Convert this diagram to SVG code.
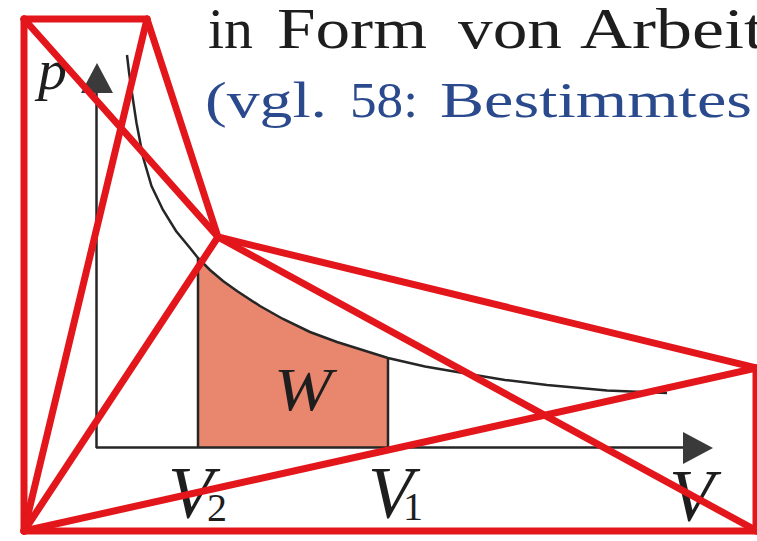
<svg xmlns="http://www.w3.org/2000/svg" width="757" height="541" viewBox="0 0 757 541">
  <style>
    .blk { font-family: "Liberation Serif", "DejaVu Serif", serif; fill: #1e1e1e; }
    .blu { font-family: "Liberation Serif", "DejaVu Serif", serif; fill: #2b4a8e; }
    .it { font-family: "Liberation Serif", "DejaVu Serif", serif; font-style: italic; fill: #1e1e1e; }
    .sub { font-style: normal; font-size: 40px; }
    .ax { stroke: #262626; stroke-width: 2.5; fill: none; }
    .head { fill: #3a3a3a; }
    .red { stroke: #e3161b; stroke-width: 7; stroke-linecap: round; fill: none; }
  </style>
  <rect width="757" height="541" fill="#ffffff"/>

  <g id="heading">
    <text class="blk" x="208" y="48" font-size="58" textLength="45" lengthAdjust="spacingAndGlyphs">in</text>
    <text class="blk" x="277" y="48" font-size="58" textLength="150" lengthAdjust="spacingAndGlyphs">Form</text>
    <text class="blk" x="458" y="48" font-size="58" textLength="104" lengthAdjust="spacingAndGlyphs">von</text>
    <text class="blk" x="580" y="48" font-size="58" textLength="184" lengthAdjust="spacingAndGlyphs">Arbeit</text>
    <text class="blu" x="205" y="117" font-size="50" textLength="122" lengthAdjust="spacingAndGlyphs">(vgl.</text>
    <text class="blu" x="350" y="117" font-size="50" textLength="68" lengthAdjust="spacingAndGlyphs">58:</text>
    <text class="blu" x="440" y="117" font-size="50" textLength="312" lengthAdjust="spacingAndGlyphs">Bestimmtes</text>
  </g>

  <g id="work-area">
    <path d="M198,447 L198,258 L210,270 L223,281 L237,291 L260,306 L283,319 L310,332 L337,342 L388,358 L388,447 Z" fill="#e8866e"/>
    <line class="ax" x1="198" y1="258" x2="198" y2="447"/>
    <line class="ax" x1="388" y1="358" x2="388" y2="447"/>
  </g>

  <g id="axes">
    <line class="ax" x1="96.5" y1="90" x2="96.5" y2="448"/>
    <polygon class="head" points="97,63 81,93 113,93"/>
    <line class="ax" x1="96" y1="447.5" x2="686" y2="447.5"/>
    <polygon class="head" points="713,448 683,432 683,464"/>
  </g>

  <g id="curve">
    <path class="ax" d="M127,55 L129,72 L131.5,90 L136.5,123 L143,157 L151.5,186 L163,210 L176,231 L190,248 L198,258 L210,270 L223,281 L237,291 L260,306 L283,319 L310,332 L337,342 L388,358 L425,366.5 L463,373 L505,380 L547,385 L607,390.5 L667,393"/>
  </g>

  <g id="labels">
    <text class="it" x="38" y="89" font-size="58">p</text>
    <text class="it" x="274" y="410" font-size="62" textLength="58" lengthAdjust="spacingAndGlyphs">W</text>
    <text class="it" x="168" y="518" font-size="74">V<tspan class="sub" x="207" y="521">2</tspan></text>
    <text class="it" x="368" y="518" font-size="74">V<tspan class="sub" x="403" y="520">1</tspan></text>
    <text class="it" x="669" y="521" font-size="74">V</text>
  </g>

  <g id="connectors">
    <line class="red" x1="24" y1="19" x2="147" y2="19"/>
    <line class="red" x1="24" y1="19" x2="24" y2="531"/>
    <line class="red" x1="24" y1="531" x2="757" y2="531"/>
    <line class="red" x1="756" y1="368" x2="756" y2="531"/>
    <line class="red" x1="24" y1="19" x2="218" y2="237"/>
    <line class="red" x1="218" y1="237" x2="757" y2="531"/>
    <line class="red" x1="147" y1="19" x2="218" y2="237"/>
    <line class="red" x1="147" y1="19" x2="24" y2="531"/>
    <line class="red" x1="218" y1="237" x2="24" y2="531"/>
    <line class="red" x1="218" y1="237" x2="757" y2="368"/>
    <line class="red" x1="24" y1="531" x2="757" y2="368"/>
  </g>
</svg>
